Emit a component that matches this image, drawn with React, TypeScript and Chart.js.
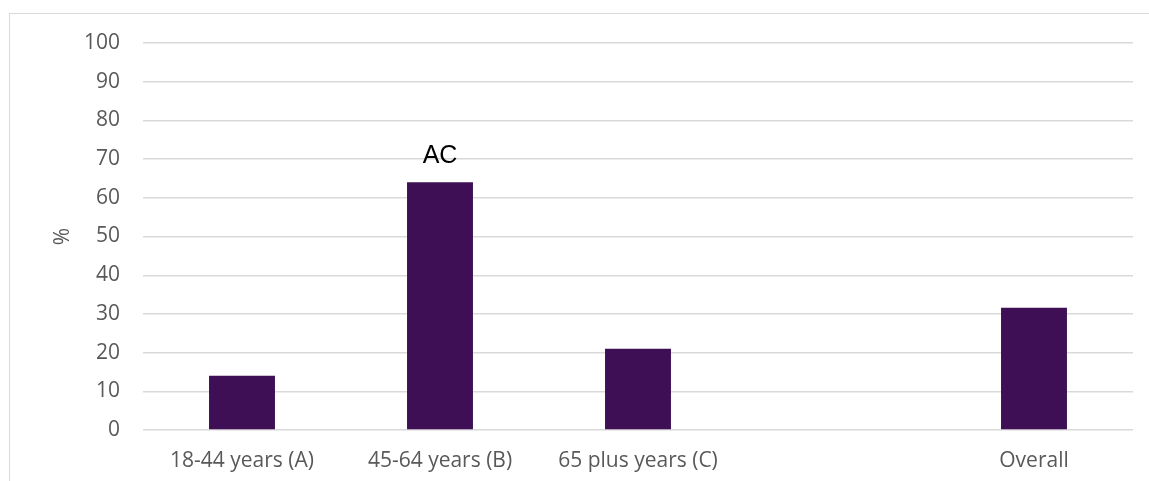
import React, { useEffect, useRef } from "react";
import { Chart, registerables } from "chart.js";

Chart.register(...registerables);

const categories = ["18-44 years (A)", "45-64 years (B)", "65 plus years (C)", "", "Overall"];
const values = [14, 64, 21, null, 31.6];
const sigLabels = ["", "AC", "", "", ""];
const yTicksMax = 100;
const yStep = 10;

const FONT = "'Open Sans', Lato, sans-serif";

const sigPlugin = {
  id: "sigLabels",
  afterDatasetsDraw(chart: any) {
    const meta = chart.getDatasetMeta(0);
    const ctx = chart.ctx;
    ctx.save();
    ctx.font = "25px 'Liberation Sans', Arial, sans-serif";
    ctx.fillStyle = "#000000";
    ctx.textAlign = "center";
    ctx.textBaseline = "bottom";
    meta.data.forEach((el: any, i: number) => {
      const t = sigLabels[i];
      if (!t || values[i] == null) return;
      ctx.fillText(t, el.x, el.y - 14);
    });
    ctx.restore();
  },
};

export default function App() {
  const ref = useRef<HTMLCanvasElement | null>(null);
  useEffect(() => {
    if (!ref.current) return;
    const chart = new Chart(ref.current, {
      type: "bar",
      data: {
        labels: categories,
        datasets: [
          {
            data: values as any,
            backgroundColor: "#3E0F54",
            borderWidth: 0,
            categoryPercentage: 1,
            barPercentage: 0.333,
          },
        ],
      },
      options: {
        animation: false,
        responsive: false,
        maintainAspectRatio: false,
        layout: { padding: { left: 50, right: 16, top: 43, bottom: 0 } },
        plugins: { legend: { display: false }, tooltip: { enabled: false } },
        scales: {
          x: {
            grid: { display: false, drawTicks: false },
            border: { display: false },
            ticks: {
              color: "#595959",
              font: { family: FONT, size: 21 },
              padding: 18,
              maxRotation: 0,
              autoSkip: false,
            },
            afterFit(scale: any) {
              scale.height = 51;
            },
          },
          y: {
            min: 0,
            max: yTicksMax,
            ticks: {
              stepSize: yStep,
              color: "#595959",
              font: { family: FONT, size: 21 },
              padding: 23,
            },
            grid: { color: "#D9D9D9", lineWidth: 1.4, drawTicks: false },
            border: { display: false },
            title: {
              display: true,
              text: "%",
              color: "#595959",
              font: { family: FONT, size: 21 },
              padding: 0,
            },
            afterFit(scale: any) {
              scale.width = 93;
            },
          },
        },
      },
      plugins: [sigPlugin],
    });
    return () => chart.destroy();
  }, []);

  return (
    <div
      style={{
        position: "fixed",
        left: 0,
        top: 0,
        width: 1149,
        height: 481,
        overflow: "hidden",
        background: "#ffffff",
      }}
    >
      <div
        style={{
          position: "absolute",
          left: 9,
          top: 13,
          width: 1200,
          height: 600,
          border: "1.5px solid #D9D9D9",
          boxSizing: "border-box",
        }}
      />
      <canvas ref={ref} width={1149} height={481} style={{ position: "absolute", left: 0, top: 0 }} />
    </div>
  );
}
